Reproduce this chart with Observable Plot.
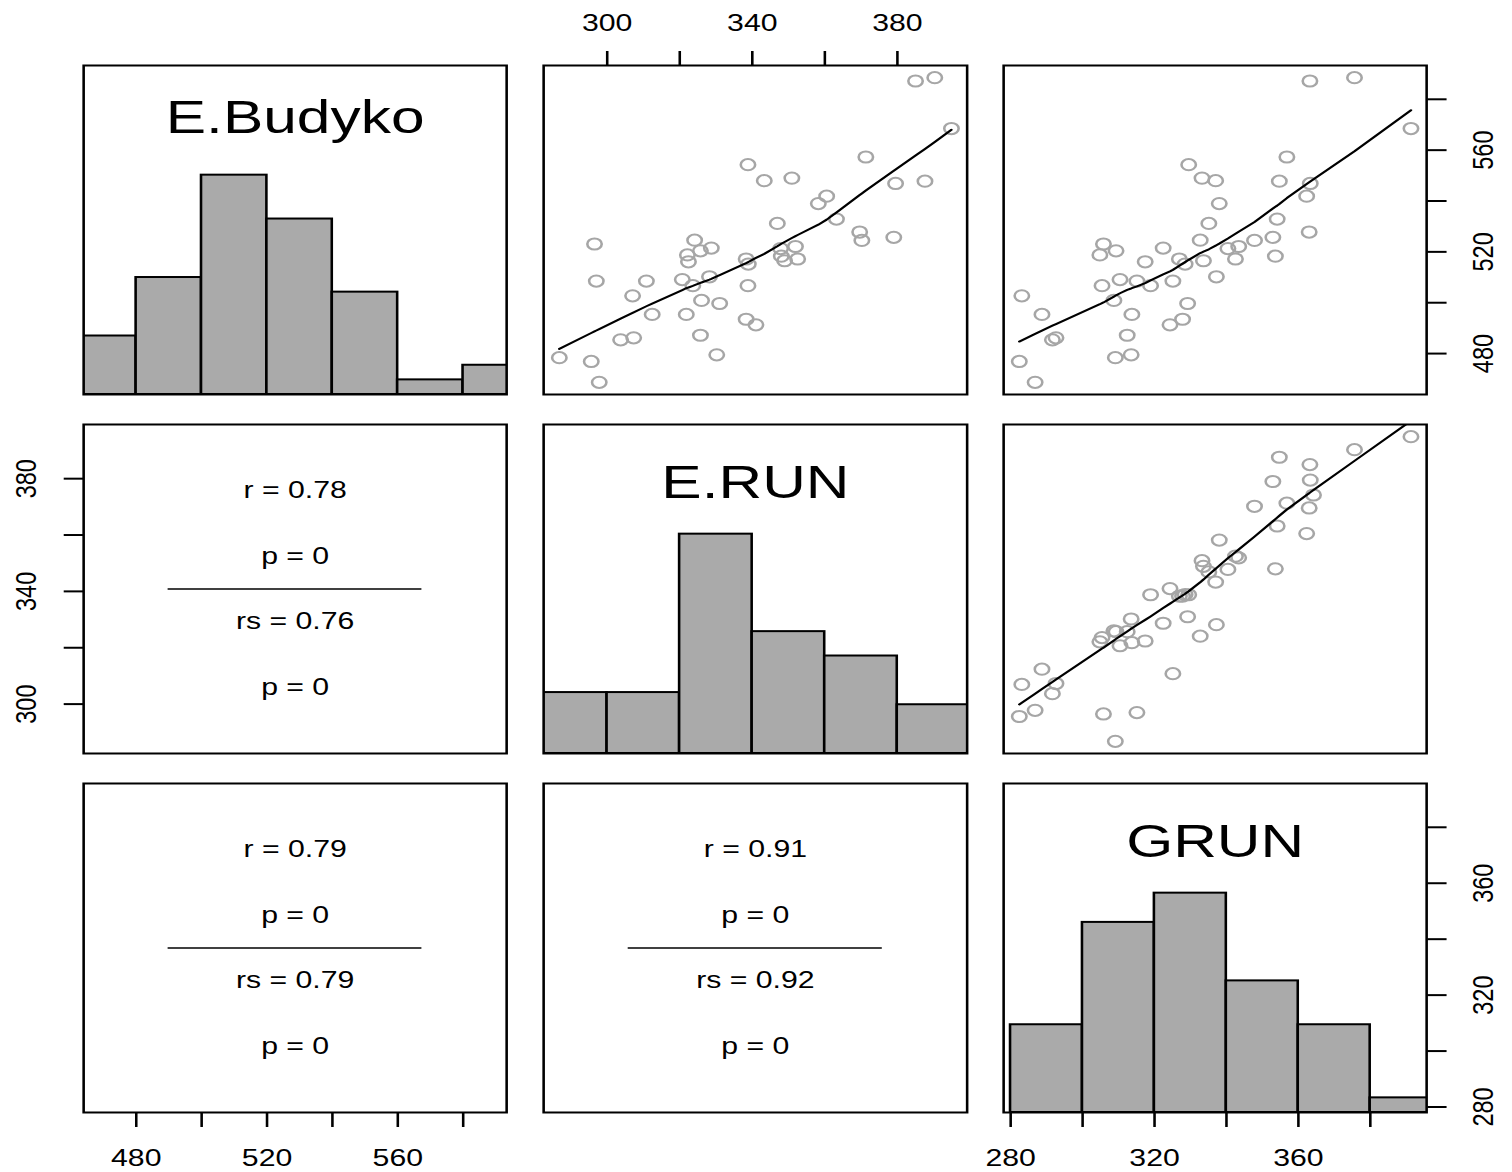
<!DOCTYPE html>
<html>
<head>
<meta charset="utf-8">
<script src="https://cdn.jsdelivr.net/npm/d3@7"></script>
<script src="https://cdn.jsdelivr.net/npm/@observablehq/plot@0.6"></script>
<style>
html, body { margin: 0; padding: 0; background: #fff; }
#page { position: relative; width: 1512px; height: 1172px; overflow: hidden; background: #fff; }
#inner { position: absolute; left: 0; top: 0; height: 1172px; transform-origin: 0 0; }
</style>
</head>
<body>
<div id="page"><div id="inner"></div></div>
<script>
// ---------------- data ----------------
const varNames = ["E.Budyko", "E.RUN", "GRUN"];

const eBudyko = [587.2, 588.5, 568.5, 554.3, 549.0, 548.0, 557.3, 547.8, 546.9, 541.9,
  539.0, 532.9, 531.2, 527.8, 524.5, 524.6, 525.7, 523.1, 520.4, 521.5,
  518.8, 516.1, 521.3, 522.1, 518.3, 516.5, 517.2, 517.2, 515.2, 508.5,
  508.5, 509.1, 506.7, 506.7, 510.2, 502.7, 500.9, 499.7, 495.4, 495.4,
  493.5, 491.3, 485.4, 486.2, 487.2, 479.5, 478.4, 476.9, 468.7, null];

const eRun = [385.0, 390.3, 394.9, 338.8, 350.9, 343.3, 371.3, 387.6, 379.5, 360.5,
  358.2, 363.2, 346.9, 369.6, 370.2, 324.1, 379.0, 296.5, 325.7, 328.7,
  322.1, 322.4, 347.8, 351.9, 348.0, 348.9, 352.5, 338.3, 338.9, 297.0,
  310.8, 320.7, 323.6, 338.8, 328.2, 307.0, 326.0, 331.0, 312.4, 321.8,
  338.3, 341.0, 303.7, 307.3, 325.7, 330.2, 286.8, 295.6, 297.8, 374.2];

const grun = [363.2, 375.6, 391.3, 329.5, 333.2, 337.0, 356.8, 354.7, 363.3, 362.3,
  338.0, 354.1, 335.1, 363.0, 347.8, 332.7, 352.9, 305.8, 309.3, 322.4,
  304.8, 317.4, 340.4, 343.4, 353.6, 333.6, 342.5, 326.9, 328.5, 315.1,
  325.1, 310.4, 305.4, 318.9, 337.2, 283.1, 308.7, 329.2, 288.7, 313.7,
  327.8, 324.3, 291.6, 292.6, 312.4, 313.5, 309.1, 282.4, 286.8, 364.2];

const budykoBreaks = [460, 480, 500, 520, 540, 560, 580, 600];
const budykoCounts = [4, 8, 15, 12, 7, 1, 2];
const runBreaks = [280, 300, 320, 340, 360, 380, 400];
const runCounts = [5, 5, 18, 10, 8, 4];
const grunBreaks = [280, 300, 320, 340, 360, 380, 400];
const grunCounts = [6, 13, 15, 9, 6, 1];

const budykoTicks = [480, 500, 520, 540, 560, 580];
const budykoTickLabels = [480, 520, 560];
const runTicks = [300, 320, 340, 360, 380];
const runTickLabels = [300, 340, 380];
const grunTicks = [280, 300, 320, 340, 360, 380];
const grunTickLabels = [280, 320, 360];

// pairs: (E.Budyko, E.RUN), (E.Budyko, GRUN), (E.RUN, GRUN)
const pearsonR = [0.78, 0.79, 0.91];
const pearsonP = [0, 0, 0];
const spearmanR = [0.76, 0.79, 0.92];
const spearmanP = [0, 0, 0];

// ---------------- lowess (as R's stats::lowess) ----------------
function lowess(xIn, yIn, f = 2 / 3, nsteps = 3) {
  const idx = d3.range(xIn.length).sort((a, b) => xIn[a] - xIn[b] || a - b);
  const x = idx.map(i => xIn[i]), y = idx.map(i => yIn[i]);
  const n = x.length;
  const range = x[n - 1] - x[0];
  const delta = 0.01 * range;
  const ys = new Array(n).fill(0), rw = new Array(n).fill(1), res = new Array(n).fill(0), w = new Array(n).fill(0);
  const ns = Math.max(2, Math.min(n, Math.floor(f * n + 1e-7)));
  function lowest(xs, nleft, nright, userw) {
    const h = Math.max(xs - x[nleft], x[nright] - xs);
    const h9 = 0.999 * h, h1 = 0.001 * h;
    let a = 0, j = nleft;
    while (j < n) {
      w[j] = 0;
      const r = Math.abs(x[j] - xs);
      if (r <= h9) {
        w[j] = r <= h1 ? 1 : Math.pow(1 - Math.pow(r / h, 3), 3);
        if (userw) w[j] *= rw[j];
        a += w[j];
      } else if (x[j] > xs) break;
      j++;
    }
    const nrt = j - 1;
    if (a <= 0) return null;
    for (j = nleft; j <= nrt; j++) w[j] /= a;
    if (h > 0) {
      a = 0;
      for (j = nleft; j <= nrt; j++) a += w[j] * x[j];
      let b = xs - a, c = 0;
      for (j = nleft; j <= nrt; j++) c += w[j] * (x[j] - a) * (x[j] - a);
      if (Math.sqrt(c) > 0.001 * range) {
        b /= c;
        for (j = nleft; j <= nrt; j++) w[j] *= (b * (x[j] - a) + 1);
      }
    }
    let s = 0;
    for (j = nleft; j <= nrt; j++) s += w[j] * y[j];
    return s;
  }
  for (let iter = 1; iter <= nsteps + 1; iter++) {
    let nleft = 0, nright = ns - 1, last = -1, i = 0;
    for (;;) {
      if (nright < n - 1) {
        const d1 = x[i] - x[nleft], d2 = x[nright + 1] - x[i];
        if (d1 > d2) { nleft++; nright++; continue; }
      }
      const v = lowest(x[i], nleft, nright, iter > 1);
      ys[i] = v === null ? y[i] : v;
      if (last < i - 1) {
        const denom = x[i] - x[last];
        for (let j = last + 1; j < i; j++) {
          const alpha = (x[j] - x[last]) / denom;
          ys[j] = alpha * ys[i] + (1 - alpha) * ys[last];
        }
      }
      last = i;
      const cut = x[last] + delta;
      for (i = last + 1; i < n; i++) {
        if (x[i] > cut) break;
        if (x[i] === x[last]) { ys[i] = ys[last]; last = i; }
      }
      i = Math.max(last + 1, i - 1);
      if (last >= n - 1) break;
    }
    for (let k = 0; k < n; k++) res[k] = y[k] - ys[k];
    if (iter > nsteps) break;
    const sc = d3.sum(res, Math.abs) / n;
    const ar = res.map(Math.abs).sort((a, b) => a - b);
    const m1 = Math.floor(n / 2);
    let cmad;
    if (n % 2 === 0) cmad = 3 * (ar[m1] + ar[n - m1 - 1]);
    else cmad = 6 * ar[m1];
    if (cmad < 1e-7 * sc) break;
    const c9 = 0.999 * cmad, c1 = 0.001 * cmad;
    for (let k = 0; k < n; k++) {
      const r = Math.abs(res[k]);
      rw[k] = r <= c1 ? 1 : r <= c9 ? Math.pow(1 - Math.pow(r / cmad, 2), 2) : 0;
    }
  }
  return x.map((xv, k) => ({x: xv, y: ys[k]}));
}

// ---------------- layout ----------------
const S = 1.2865;             // horizontal stretch of the reference
const PAGE_W = 1512, H = 1172, W0 = PAGE_W / S;
const colEdges = [[83, 506], [543, 966.5], [1003, 1426]];
const rowEdges = [[65, 394], [424, 753], [783, 1112]];
const inner = document.getElementById("inner");
inner.style.width = W0 + "px";
inner.style.transform = `scaleX(${S})`;

const baseStyle = "position:absolute;left:0;top:0;background:transparent;overflow:visible;" +
  "font-family:'Liberation Sans',Arial,Helvetica,sans-serif;font-size:23.5px;color:black;";

function place(r, c, opts) {
  const svg = Plot.plot({
    width: W0, height: H,
    marginLeft: colEdges[c][0] / S,
    marginRight: W0 - colEdges[c][1] / S,
    marginTop: rowEdges[r][0],
    marginBottom: H - rowEdges[r][1],
    style: baseStyle,
    ...opts
  });
  svg.setAttribute("style", baseStyle);
  inner.appendChild(svg);
}

const variables = [
  {name: varNames[0], values: eBudyko, breaks: budykoBreaks, counts: budykoCounts, ticks: budykoTicks, labels: budykoTickLabels, titleDy: 67.7},
  {name: varNames[1], values: eRun, breaks: runBreaks, counts: runCounts, ticks: runTicks, labels: runTickLabels, titleDy: 73.3},
  {name: varNames[2], values: grun, breaks: grunBreaks, counts: grunCounts, ticks: grunTicks, labels: grunTickLabels, titleDy: 74}
];
variables.forEach(v => {
  const [lo, hi] = d3.extent(v.values);
  const pad = 0.04 * (hi - lo);
  v.domain = [lo - pad, hi + pad];
});

const obs = d3.range(eRun.length).map(i => ({v: [eBudyko[i], eRun[i], grun[i]]}));
const pairIndex = (a, b) => (a === 0 ? (b === 1 ? 0 : 1) : 2);

for (let r = 0; r < 3; r++) {
  for (let c = 0; c < 3; c++) {
    if (r === c) {
      const V = variables[r];
      const bins = V.counts.map((n, i) => ({x1: V.breaks[i], x2: V.breaks[i + 1], count: n}));
      place(r, c, {
        x: {domain: V.domain, axis: null},
        y: {domain: [0, 1.5 * d3.max(V.counts)], axis: null},
        marks: [
          Plot.rectY(bins, {x1: "x1", x2: "x2", y: "count", fill: "#aaaaaa", stroke: "black", strokeWidth: 2, inset: 0, clip: true}),
          Plot.text([V.name], {frameAnchor: "top", dy: V.titleDy, lineAnchor: "bottom", textAnchor: "middle", fontSize: 47, text: d => d, fill: "black"}),
          Plot.frame({stroke: "black", strokeWidth: 2})
        ]
      });
    } else if (c > r) {
      const pts = obs.filter(o => o.v[c] != null && o.v[r] != null);
      const fit = lowess(pts.map(o => o.v[c]), pts.map(o => o.v[r]));
      place(r, c, {
        x: {domain: variables[c].domain, axis: null},
        y: {domain: variables[r].domain, axis: null},
        marks: [
          Plot.dot(pts, {x: o => o.v[c], y: o => o.v[r], r: 5.6, stroke: "#a6a6a6", strokeWidth: 2, fill: "none"}),
          Plot.line(fit, {x: "x", y: "y", stroke: "black", strokeWidth: 2, clip: true}),
          Plot.frame({stroke: "black", strokeWidth: 2})
        ]
      });
    } else {
      const k = pairIndex(c, r);
      const lines = [
        {y: 0.8, t: `r = ${pearsonR[k]}`},
        {y: 0.6, t: `p = ${pearsonP[k]}`},
        {y: 0.4, t: `rs = ${spearmanR[k]}`},
        {y: 0.2, t: `p = ${spearmanP[k]}`}
      ];
      place(r, c, {
        x: {domain: [0, 1], axis: null},
        y: {domain: [0, 1], axis: null},
        marks: [
          Plot.text(lines, {x: 0.5, y: "y", text: "t", lineAnchor: "middle", textAnchor: "middle", fill: "black"}),
          Plot.ruleY([0.5], {x1: 0.2, x2: 0.8, stroke: "black", strokeWidth: 1.5}),
          Plot.frame({stroke: "black", strokeWidth: 2})
        ]
      });
    }
  }
}

// ---------------- axes (R pairs style: alternating sides) ----------------
const axes = [
  {r: 0, c: 1, side: "top", v: 1},
  {r: 0, c: 2, side: "right", v: 0},
  {r: 1, c: 0, side: "left", v: 1},
  {r: 2, c: 0, side: "bottom", v: 0},
  {r: 2, c: 2, side: "bottom", v: 2},
  {r: 2, c: 2, side: "right", v: 2}
];
axes.forEach(({r, c, side, v}) => {
  const V = variables[v];
  if (side === "top" || side === "bottom") {
    place(r, c, {
      x: {domain: V.domain},
      marks: [Plot.axisX({anchor: side, ticks: V.ticks, tickSize: 15, tickPadding: side === "top" ? 19 : 22,
        tickFormat: d => V.labels.includes(d) ? String(d) : "", strokeWidth: 2, label: null, fill: "black"})]
    });
  } else {
    place(r, c, {
      y: {domain: V.domain},
      marks: [
        Plot.axisY({anchor: side, ticks: V.ticks, tickSize: 15, tickFormat: () => "", strokeWidth: 2, label: null}),
        Plot.text(V.labels, {y: d => d, text: d => String(d), frameAnchor: side, dx: side === "left" ? -44.5 : 44,
          rotate: -90, textAnchor: "middle", lineAnchor: "middle", fill: "black"})
      ]
    });
  }
});
</script>
</body>
</html>
